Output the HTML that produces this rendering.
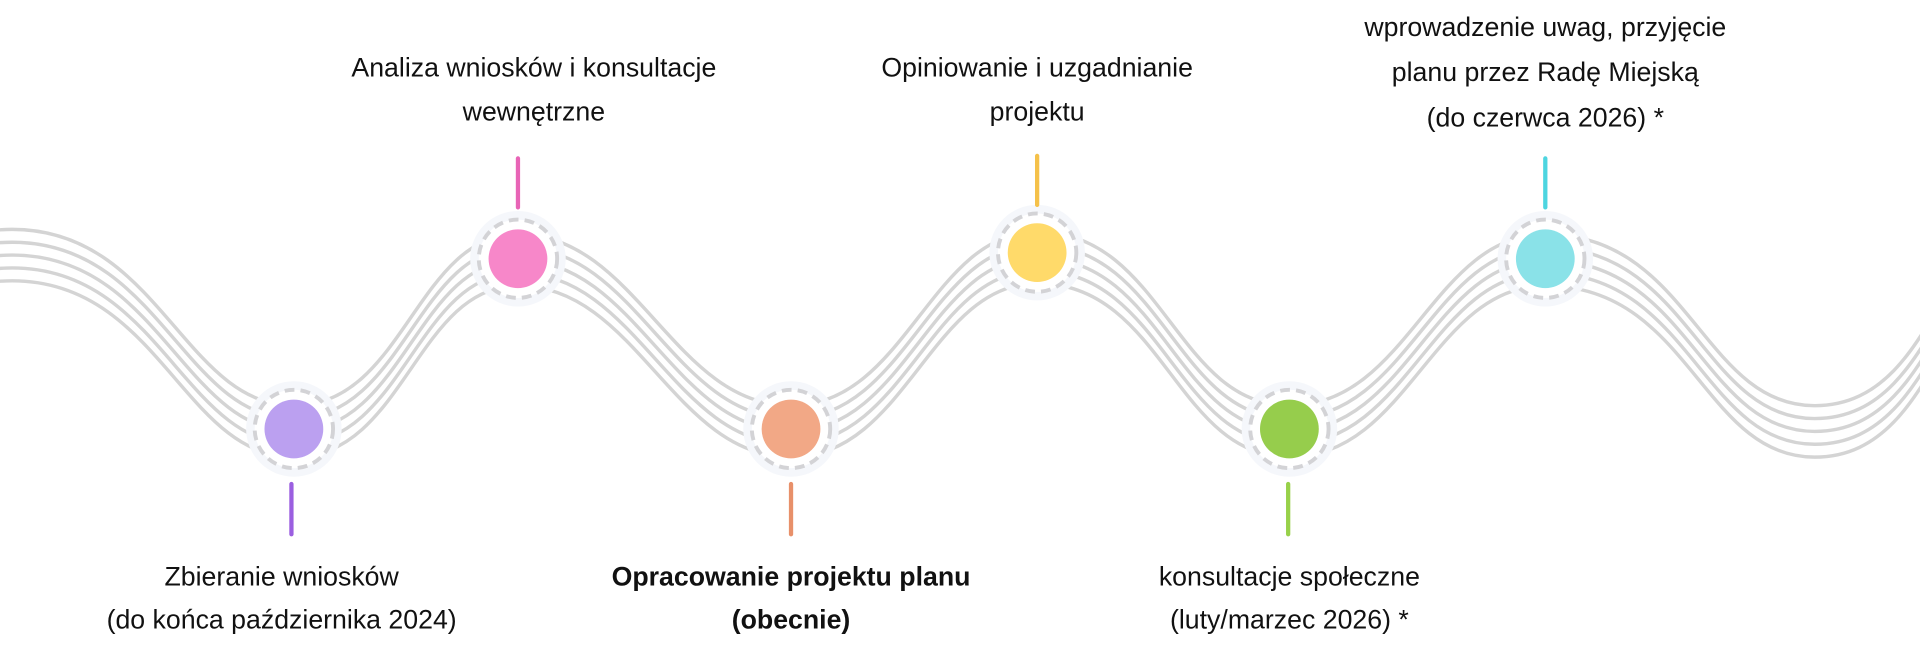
<!DOCTYPE html>
<html><head><meta charset="utf-8"><style>
html,body{margin:0;padding:0;background:#fff;width:1920px;height:662px;overflow:hidden}
svg{display:block}
text{font-family:"Liberation Sans","DejaVu Sans",sans-serif;font-size:21.8px;fill:#111;text-anchor:middle}
</style></head><body>
<svg width="1920" height="662" viewBox="0 0 1568 540" xmlns="http://www.w3.org/2000/svg">
<defs>
<path id="w" d="M-60,212 C-30,212 -10,208 10,208 C130,208 150,352 240,352 C330,352 340,212 423,212 C520,212 550,352 646,352 C740,352 760,210 847,210 C950,210 960,352 1053,352 C1150,352 1170,212 1262,212 C1380,212 1390,352 1482,352 C1560,352 1580,260 1620,212"/>
</defs>
<g fill="none" stroke="#d4d4d4" stroke-width="2.8">
<use href="#w" transform="translate(0,-21)"/>
<use href="#w" transform="translate(0,-10.5)"/>
<use href="#w"/>
<use href="#w" transform="translate(0,10.5)"/>
<use href="#w" transform="translate(0,21)"/>
</g>
<g>
<g transform="translate(240,350)"><circle r="39" fill="#f5f7fb"/><circle r="32" fill="#fff" stroke="#d3d3d6" stroke-width="3.2" stroke-dasharray="8 5"/><circle r="24" fill="#bba0f0"/></g>
<g transform="translate(423,211)"><circle r="39" fill="#f5f7fb"/><circle r="32" fill="#fff" stroke="#d3d3d6" stroke-width="3.2" stroke-dasharray="8 5"/><circle r="24" fill="#f787c9"/></g>
<g transform="translate(646,350)"><circle r="39" fill="#f5f7fb"/><circle r="32" fill="#fff" stroke="#d3d3d6" stroke-width="3.2" stroke-dasharray="8 5"/><circle r="24" fill="#f2a886"/></g>
<g transform="translate(847,206)"><circle r="39" fill="#f5f7fb"/><circle r="32" fill="#fff" stroke="#d3d3d6" stroke-width="3.2" stroke-dasharray="8 5"/><circle r="24" fill="#ffda6a"/></g>
<g transform="translate(1053,350)"><circle r="39" fill="#f5f7fb"/><circle r="32" fill="#fff" stroke="#d3d3d6" stroke-width="3.2" stroke-dasharray="8 5"/><circle r="24" fill="#96cd4c"/></g>
<g transform="translate(1262,211)"><circle r="39" fill="#f5f7fb"/><circle r="32" fill="#fff" stroke="#d3d3d6" stroke-width="3.2" stroke-dasharray="8 5"/><circle r="24" fill="#8ae2e8"/></g>
</g>
<g stroke-width="3.5" stroke-linecap="round">
<line x1="238" y1="395" x2="238" y2="436" stroke="#9b5fe0"/>
<line x1="423" y1="129" x2="423" y2="169" stroke="#e864b6"/>
<line x1="646" y1="395" x2="646" y2="436" stroke="#e8906a"/>
<line x1="847" y1="127" x2="847" y2="167" stroke="#f5c14a"/>
<line x1="1052" y1="395" x2="1052" y2="436" stroke="#98d14a"/>
<line x1="1262" y1="129" x2="1262" y2="169" stroke="#4dd5e0"/>
</g>
<text x="436" y="62">Analiza wniosków i konsultacje</text>
<text x="436" y="98">wewnętrzne</text>
<text x="847" y="62">Opiniowanie i uzgadnianie</text>
<text x="847" y="98">projektu</text>
<text x="1262" y="29">wprowadzenie uwag, przyjęcie</text>
<text x="1262" y="66">planu przez Radę Miejską</text>
<text x="1262" y="103">(do czerwca 2026) *</text>
<text x="230" y="478">Zbieranie wniosków</text>
<text x="230" y="513">(do końca października 2024)</text>
<text x="646" y="478" font-weight="bold">Opracowanie projektu planu</text>
<text x="646" y="513" font-weight="bold">(obecnie)</text>
<text x="1053" y="478">konsultacje społeczne</text>
<text x="1053" y="513">(luty/marzec 2026) *</text>
</svg>
</body></html>
